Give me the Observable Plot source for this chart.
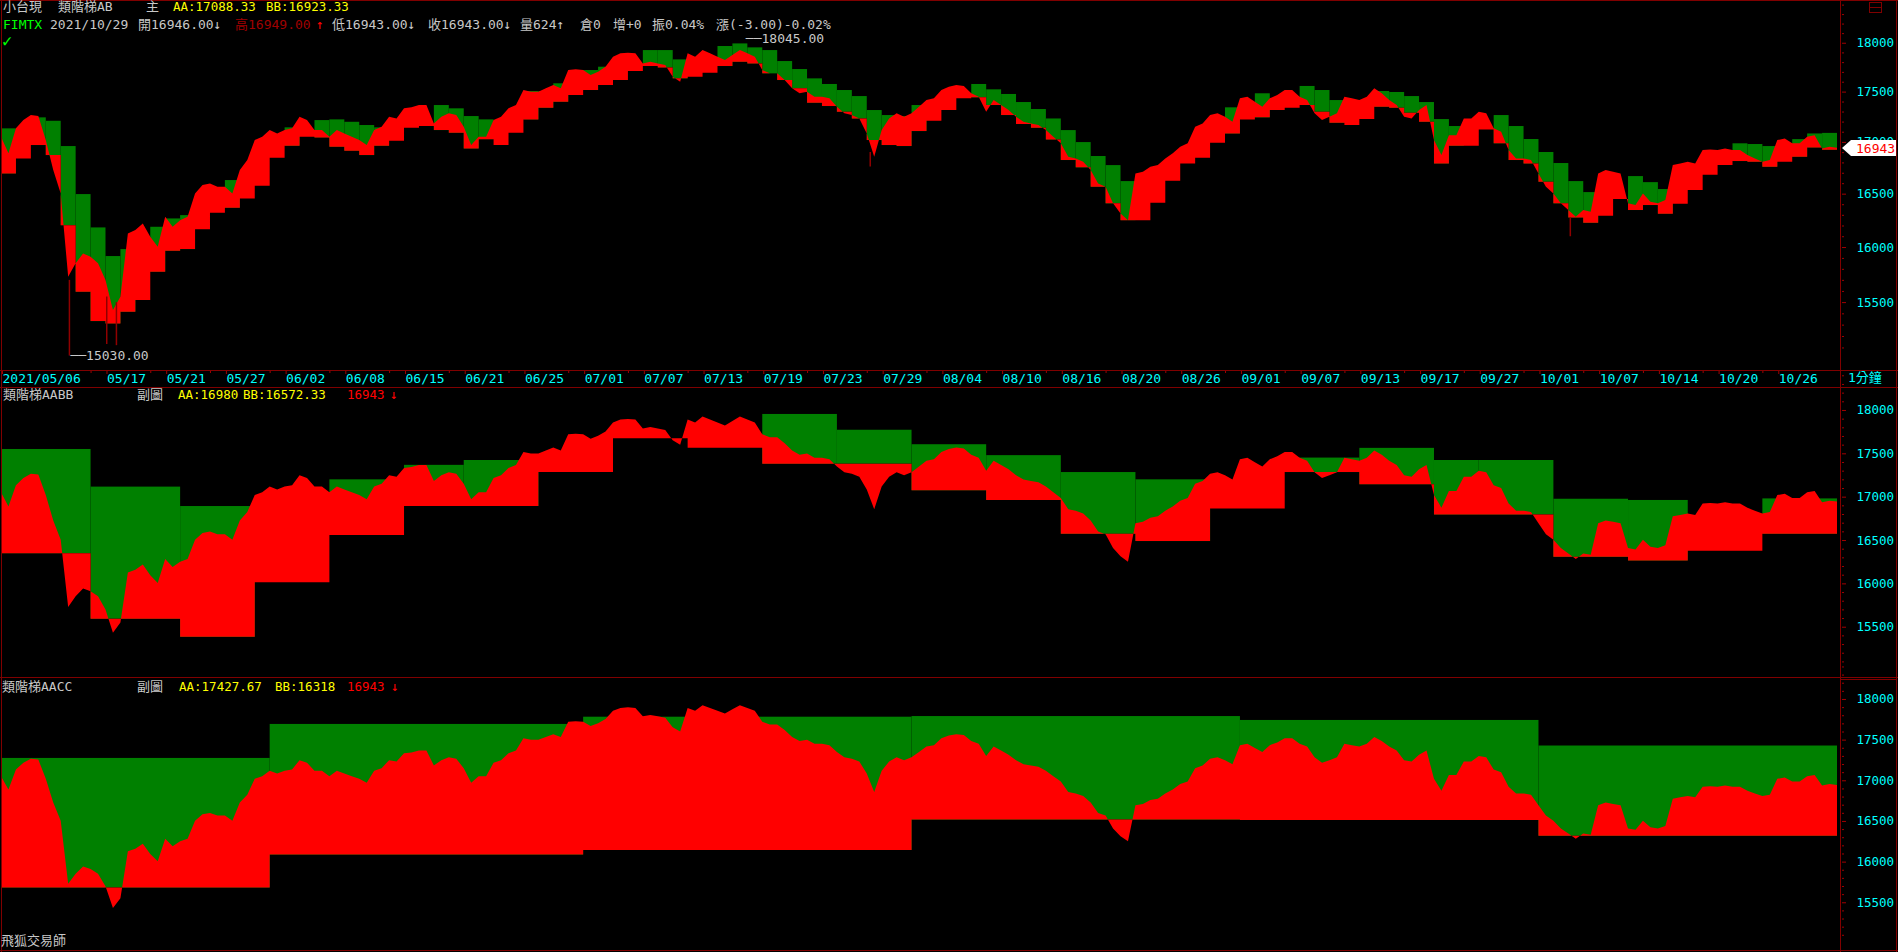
<!DOCTYPE html>
<html><head><meta charset="utf-8">
<script src="https://cdn.jsdelivr.net/npm/d3@7"></script>
<script src="https://cdn.jsdelivr.net/npm/@observablehq/plot@0.6"></script>
<style>
html,body{margin:0;padding:0;background:#000;}
body{width:1898px;height:952px;overflow:hidden;position:relative;font-family:"DejaVu Sans Mono","Noto Sans CJK TC",monospace;}
#root{position:absolute;left:0;top:0;width:1898px;height:952px;}
.t{position:absolute;white-space:pre;line-height:16px;font-size:13px;font-family:"DejaVu Sans Mono","Noto Sans CJK TC",monospace;}
.ln{position:absolute;background:#800000;}
</style></head><body>
<div id="root"></div>
<script>
// ---------------- data ----------------
const dayCount = 123; // trading days 2021/05/06 .. 2021/10/29
const dateTickDays = [0,7,11,15,19,23,27,31,35,39,43,47,51,55,59,63,67,71,75,79,83,87,91,95,99,103,107,111,115,119];
const dateTickLabels = ["2021/05/06","05/17","05/21","05/27","06/02","06/08","06/15","06/21","06/25","07/01","07/07","07/13","07/19","07/23","07/29","08/04","08/10","08/16","08/20","08/26","09/01","09/07","09/13","09/17","09/27","10/01","10/07","10/14","10/20","10/26"];
const yMajorTicks = [15500,16000,16500,17000,17500,18000];

// close price, two readings per trading day (plus final close)
const closeHalfDay = [
17050,16888, 17133,17215, 17265,17255, 17018,16726, 16502,15728, 15850,15941, 15910,15850, 15698,15429, 15548,16126, 16157,16219,
16095,16003, 16281,16188, 16250,16281, 16502,16582, 16598,16566, 16566,16502, 16726,16823, 17018,17050, 17116,17083, 17116,17133,
17248,17215, 17116,17116, 17050,17116, 17083,17050, 17018,16970, 17116,17149, 17248,17231, 17332,17342, 17365,17365, 17182,17248,
17282,17265, 17149,16970, 17050,17050, 17215,17248, 17332,17365, 17516,17499, 17499,17533, 17567,17533, 17719,17726, 17719,17668,
17702,17753, 17856,17890, 17897,17890, 17787,17804, 17787,17770, 17651,17600, 17890,17856, 17924,17890, 17856,17821, 17873,17924,
17890,17856, 17719,17685, 17685,17617, 17533,17483, 17499,17449, 17449,17432, 17348,17282, 17265,17231, 17083,16855, 17116,17231,
17282,17248, 17282,17348, 17415,17432, 17516,17550, 17567,17557, 17483,17449, 17298,17415, 17365,17315, 17248,17198, 17182,17166,
17116,17050, 16986,16855, 16839,16807, 16726,16598, 16566,16408, 16313,16250, 16694,16710, 16758,16774, 16839,16888, 16953,16986,
17149,17182, 17265,17282, 17248,17198, 17432,17449, 17398,17348, 17432,17466, 17516,17516, 17449,17415, 17282,17215, 17248,17282,
17449,17432, 17415,17449, 17533,17483, 17415,17365, 17248,17231, 17315,17365, 17018,16871, 17066,17066, 17231,17231, 17298,17282,
17133,17099, 16920,16839, 16839,16823, 16694,16566, 16502,16408, 16345,16281, 16345,16329, 16694,16726, 16710,16694, 16408,16392,
16502,16423, 16408,16439, 16774,16790, 16807,16790, 16920,16926, 16920,16936, 16920,16920, 16871,16839, 16807,16823, 17018,17034,
16986,16986, 17050,17066, 16936,16953,
16943];
const lastClose = 16943;

// main chart: daily ladder (AA upper, BB lower); null = AA below the price all day
const p1AA = [17133,null,17242,17208,16959,16496,16182,15917,15981,null,
16188,16266,16297,null,null,16630,null,null,null,17143,
null,17215,17222,17198,17166,17143,null,null,null,17365,
17332,17255,17222,null,null,17506,17506,17584,null,17719,
17753,null,null,17924,17924,17828,null,null,17966,17993,
17952,17924,17811,17729,17634,17577,17516,17455,17315,17265,
17255,17365,null,null,null,17577,17523,17476,17395,17325,
17231,17116,16998,16862,16774,16620,null,null,null,null,
null,null,17342,null,17483,null,null,17557,17516,17415,
null,null,17506,17496,17455,17395,17225,17156,null,null,
17265,17156,17028,16901,16794,16620,16515,null,null,16668,
16610,16544,null,null,null,null,16986,16979,16959,null,
17027,17083,17088.33];
const p1BB = [16694,16839,16969,16871,16203,15593,15331,15311,15414,15518,
15774,15966,15981,16166,16320,16367,16455,16576,16846,16962,
17050,17044,16953,16914,16871,16962,17011,17139,17156,17116,
17090,16936,17027,16969,17090,17222,17338,17398,17466,17516,
17567,17617,17709,17760,17746,17634,17651,17692,17760,17804,
17787,17685,17617,17533,17388,17355,17298,17231,17018,16969,
16959,17106,17208,17315,17432,17442,17365,17265,17176,17139,
17024,16823,16752,16566,16408,16250,16250,16414,16623,16790,
16846,16992,17083,17222,17242,17315,17338,17365,17298,17188,
17166,17225,17348,17338,17288,17198,16790,16962,16962,17123,
16986,16823,16790,16614,16408,16275,16225,16291,16449,16345,
16392,16311,16404,16534,16681,16774,16813,16807,16758,16807,
16855,16946,16923.33];

// sub chart AABB: weekly ladder
const p2Start = [0,6,12,17,22,27,31,36,41,46,51,56,61,66,71,76,81,86,91,96,99,104,109,113,118];
const p2AA = [17550,17116,16892,null,17200,17367,17423,null,null,null,17954,17772,17605,17479,17284,17200,null,17451,17563,17423,17423,16976,16962,null,16980];
const p2BB = [16348,15593,15383,16013,16558,16893,16893,17284,17674,17563,17381,17381,17074,16962,16572,16488,16865,17284,17144,16795,16795,16306,16264,16376,16572.33];

// sub chart AACC: monthly ladder
const p3Start = [0,18,39,61,83,103];
const p3AA = [17275,17693,17782,17790,17742,17427.67];
const p3BB = [15682,16087,16143,16517,16512,16318];

// marked extremes of the main chart
const extremeDay = [49.8, 4.55];
const extremeVal = [18045, 15030];
const wickDay = [4.55, 7.05, 7.7, 58.2, 105.1];
const wickTop = [15700, 15550, 15500, 16900, 16280];
const wickLow = [15030, 15130, 15120, 16760, 16100];

// ---------------- helpers ----------------
const root = document.getElementById("root");
const FONT = '"DejaVu Sans Mono","Noto Sans CJK TC",monospace';
const days = d3.range(dayCount);
const halfStep = 0.5;

function stepTable(starts, bbs){
  const rows = []; let k = 0;
  closeHalfDay.forEach((p, i) => {
    const x = i * halfStep;
    while (k + 1 < starts.length && starts[k + 1] <= x) { rows.push({x, p, bb: bbs[k]}); k++; }
    rows.push({x, p, bb: bbs[k]});
  });
  return rows;
}
function boxes(starts, aa, bb){
  return starts.map((s, k) => ({x1: s, x2: k + 1 < starts.length ? starts[k + 1] : dayCount, aa: aa[k], bb: bb[k]}))
    .filter(b => b.aa != null);
}
function minorTicks(lo, hi){ const t=[]; for(let v=lo; v<=hi; v+=100) if (v%500) t.push(v); return t; }

function panel({top, height, plotH, yScale, starts, aa, bb, extra = [], xAxis = false}){
  const marks = [
    Plot.rect(boxes(starts, aa, bb), {x1:"x1", x2:"x2", y1:"bb", y2:"aa", fill:"#008000"}),
    Plot.areaY(stepTable(starts, bb), {x:"x", y1:"bb", y2:"p", fill:"#ff0000"}),
    ...extra,
    Plot.axisY({anchor:"right", ticks: minorTicks(15000, 18400), tickSize:2, stroke:"#a00000", fill:"none"}),
    Plot.axisY({anchor:"right", ticks: yMajorTicks, tickSize:4, tickPadding:11, stroke:"#a00000", fill:"#00ffff",
      fontSize: 12.5, tickFormat: d => String(d)})
  ];
  if (xAxis) {
    const lab = new Map(dateTickDays.map((d, i) => [d, dateTickLabels[i]]));
    const minor = dateTickDays.filter(d => d > 0).map(d => d - 1);
    marks.push(
      Plot.axisX({anchor:"bottom", ticks: minor, tickSize:3, stroke:"#a00000", fill:"none"}),
      Plot.axisX({anchor:"bottom", ticks: dateTickDays, tickSize:4, tickPadding:-1, textAnchor:"start", dx:1,
        stroke:"#a00000", fill:"#00ffff", fontSize: 13, tickFormat: d => lab.get(d)})
    );
  }
  const p = Plot.plot({
    width: 1898, height, marginTop: 0, marginLeft: 1, marginRight: 57, marginBottom: height - plotH,
    style: {background: "transparent", overflow: "visible", fontFamily: FONT, fontSize: "12.5px", color: "#00ffff"},
    x: {domain: [0, dayCount], range: [1, 1837], axis: null},
    y: {...yScale, range: [plotH, 0], axis: null},
    marks
  });
  p.style.position = "absolute"; p.style.left = "0px"; p.style.top = top + "px";
  root.appendChild(p);
  return p;
}

// ---------------- panels ----------------
const p1 = panel({
  top: 0, height: 387, plotH: 370,
  yScale: {type: "log", domain: [14905, 18449]},
  starts: days, aa: p1AA, bb: p1BB, xAxis: true,
  extra: [
    Plot.ruleX(wickDay.map((d, i) => ({d, t: wickTop[i], l: wickLow[i]})), {x: "d", y1: "t", y2: "l", stroke: "#900000", strokeWidth: 1.5}),
    Plot.text(extremeDay.map((d, i) => ({d, v: extremeVal[i]})), {x: "d", y: "v", text: r => "──" + r.v.toFixed(2),
      textAnchor: "start", dx: 1, fill: "#c8c8c8", fontSize: 13, fontFamily: FONT})
  ]
});
panel({
  top: 387, height: 290, plotH: 290,
  yScale: {type: "linear", domain: [14920, 18265]},
  starts: p2Start, aa: p2AA, bb: p2BB
});
panel({
  top: 678, height: 272, plotH: 272,
  yScale: {type: "linear", domain: [14913, 18258]},
  starts: p3Start, aa: p3AA, bb: p3BB
});

// last price marker on the main axis
(function(){
  const y = p1.scale("y").apply(lastClose);
  const ns = "http://www.w3.org/2000/svg";
  const s = document.createElementNS(ns, "svg");
  s.setAttribute("width", 60); s.setAttribute("height", 20);
  s.style.position = "absolute"; s.style.left = "1840px"; s.style.top = (y - 10) + "px";
  s.innerHTML = `<polygon points="2,10 11,2 56,2 56,18 11,18" fill="#ffffff"/>
    <text x="16" y="14.5" fill="#ff0000" font-size="13" font-family='DejaVu Sans Mono'>${lastClose}</text>`;
  root.appendChild(s);
})();

// ---------------- frame lines ----------------
function line(x, y, w, h){ const d = document.createElement("div"); d.className = "ln";
  Object.assign(d.style, {left: x + "px", top: y + "px", width: w + "px", height: h + "px"}); root.appendChild(d); }
line(0, 0, 1898, 1);      // top
line(0, 950, 1898, 1);    // bottom
line(1, 0, 1, 952);       // left
line(1896, 0, 1, 952);    // right
line(1840, 0, 1, 952);    // axis divider
line(0, 370, 1898, 1);
line(0, 387, 1898, 1);
line(0, 677, 1898, 1);
line(1841, 679, 55, 1);
// small icon top right
(function(){ const d = document.createElement("div");
  Object.assign(d.style, {position:"absolute", left:"1869px", top:"2px", width:"11px", height:"9px", border:"1px solid #800000"});
  const m = document.createElement("div"); Object.assign(m.style, {position:"absolute", left:"0", top:"4px", width:"11px", height:"1px", background:"#800000"});
  d.appendChild(m); root.appendChild(d); })();

// ---------------- texts ----------------
function T(x, cy, color, str, size = 13){
  const d = document.createElement("div"); d.className = "t"; d.textContent = str;
  Object.assign(d.style, {left: x + "px", top: (cy - 8) + "px", color, fontSize: size + "px"});
  root.appendChild(d);
}
const G = "#c8c8c8", Y = "#ffff00", R = "#ff0000", DR = "#a00000", C = "#00ffff";
T(3, 7, G, "小台現"); T(58, 7, G, "類階梯AB"); T(146, 7, G, "主");
T(173, 7, Y, "AA:17088.33", 12.5); T(266, 7, Y, "BB:16923.33", 12.5);
T(3, 25, "#00ff00", "FIMTX"); T(50, 25, G, "2021/10/29"); T(138, 25, G, "開16946.00↓");
T(235, 25, DR, "高16949.00"); T(316, 25, R, "↑");
T(332, 25, G, "低16943.00↓"); T(428, 25, G, "收16943.00↓");
T(520, 25, G, "量624↑"); T(580, 25, G, "倉0"); T(613, 25, G, "增+0");
T(652, 25, G, "振0.04%"); T(716, 25, G, "漲(-3.00)-0.02%");
T(2, 41, "#00ff00", "✓", 17);
T(1848, 378, C, "1分鐘");
T(3, 395, G, "類階梯AABB"); T(137, 395, G, "副圖"); T(178, 395, Y, "AA:16980", 12.5); T(243, 395, Y, "BB:16572.33", 12.5);
T(347, 395, R, "16943", 12.5); T(390, 395, R, "↓");
T(2, 687, G, "類階梯AACC"); T(137, 687, G, "副圖"); T(179, 687, Y, "AA:17427.67", 12.5); T(275, 687, Y, "BB:16318", 12.5);
T(347, 687, R, "16943", 12.5); T(391, 687, R, "↓");
T(1, 941, G, "飛狐交易師");
</script>
</body></html>
